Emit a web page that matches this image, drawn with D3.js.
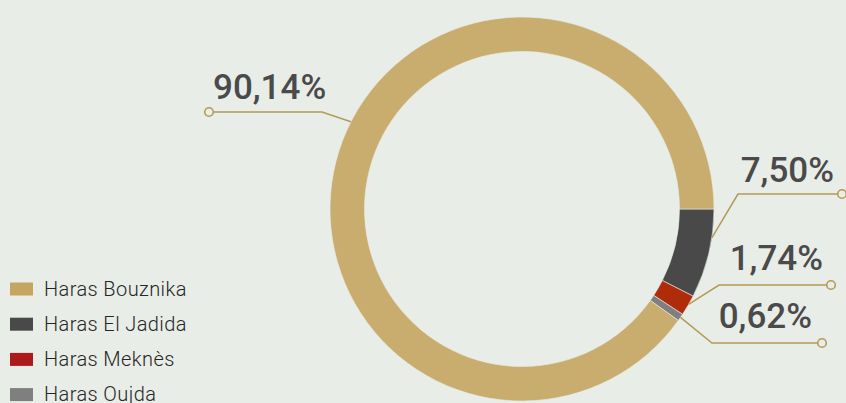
<!DOCTYPE html>
<html>
<head>
<meta charset="utf-8">
<script src="https://cdn.jsdelivr.net/npm/d3@7"></script>
<style>
  html, body { margin: 0; padding: 0; background: #e8ede7; }
  svg { display: block; }
</style>
</head>
<body>
<svg id="chart" width="846" height="403"></svg>
<script>
// Share of each stud farm
const categories = ["Haras El Jadida", "Haras Meknès", "Haras Oujda", "Haras Bouznika"];
const values = [7.50, 1.74, 0.62, 90.14];
const labels = ["7,50%", "1,74%", "0,62%", "90,14%"];
const sliceColors = ["#494949", "#b02b0a", "#7f7f7f", "#c8ad6e"];

// Legend order and swatch colours
const legendNames = ["Haras Bouznika", "Haras El Jadida", "Haras Meknès", "Haras Oujda"];
const legendColors = ["#c5a560", "#494949", "#ab1b1b", "#7f7f7f"];

const svg = d3.select("#chart");
const cx = 522, cy = 209;
const rOuter = 192, rInner = 157.5;
const lineColor = "#b39a58";
const bg = "#e8ede7";

const pie = d3.pie().sort(null).value(d => d)
  .startAngle(Math.PI / 2).endAngle(Math.PI / 2 + 2 * Math.PI);
const arcs = pie(values);
const arc = d3.arc().innerRadius(rInner).outerRadius(rOuter);

const g = svg.append("g").attr("transform", `translate(${cx},${cy})`);
g.selectAll("path.slice").data(arcs).join("path")
  .attr("class", "slice")
  .attr("d", arc)
  .attr("fill", (d, i) => sliceColors[i])
  .attr("stroke", bg)
  .attr("stroke-width", 0.6);

// Leader lines: start on the outer edge, bend, then run horizontally to a ring marker
const leaders = [
  { t: 0.32, elbowX: 738, endX: 842, y: 194, anchor: "end", textX: 834, textY: 182 },
  { t: 0.45, elbowX: 719, endX: 831, y: 285, anchor: "end", textX: 823, textY: 270 },
  { t: 0.5, elbowX: 712, endX: 822, y: 343, anchor: "end", textX: 812, textY: 328 },
  { fixedAngle: 297, elbowX: 322, endX: 209, y: 112, anchor: "start", textX: 213, textY: 99 }
];

const ov = svg.append("g");
arcs.forEach((a, i) => {
  const L = leaders[i];
  const ang = L.fixedAngle !== undefined
    ? L.fixedAngle * Math.PI / 180
    : a.startAngle + L.t * (a.endAngle - a.startAngle);
  const sx = cx + rOuter * Math.sin(ang);
  const sy = cy - rOuter * Math.cos(ang);
  const pts = [[sx, sy], [L.elbowX, L.y], [L.endX, L.y]];
  ov.append("path")
    .attr("d", d3.line()(pts))
    .attr("fill", "none")
    .attr("stroke", lineColor)
    .attr("stroke-width", 1.5);
  ov.append("circle")
    .attr("cx", L.endX).attr("cy", L.y).attr("r", 4.3)
    .attr("fill", bg)
    .attr("stroke", lineColor)
    .attr("stroke-width", 1.6);
  ov.append("text")
    .attr("x", L.textX).attr("y", L.textY)
    .attr("text-anchor", L.anchor)
    .attr("font-family", "Roboto, 'DejaVu Sans', sans-serif")
    .attr("font-weight", 500)
    .attr("font-size", 35)
    .attr("fill", "#4a4a4a")
    .text(labels[i]);
});

// Legend
const leg = svg.append("g");
legendNames.forEach((name, i) => {
  const y0 = 282.5 + i * 35.2;
  leg.append("rect")
    .attr("x", 10).attr("y", y0).attr("width", 23).attr("height", 13)
    .attr("fill", legendColors[i]);
  leg.append("text")
    .attr("x", 44).attr("y", y0 + 13.3)
    .attr("font-family", "Roboto, 'DejaVu Sans', sans-serif")
    .attr("font-weight", 300)
    .attr("font-size", 20)
    .attr("letter-spacing", 0.4)
    .attr("fill", "#262626")
    .text(name);
});
</script>
</body>
</html>
